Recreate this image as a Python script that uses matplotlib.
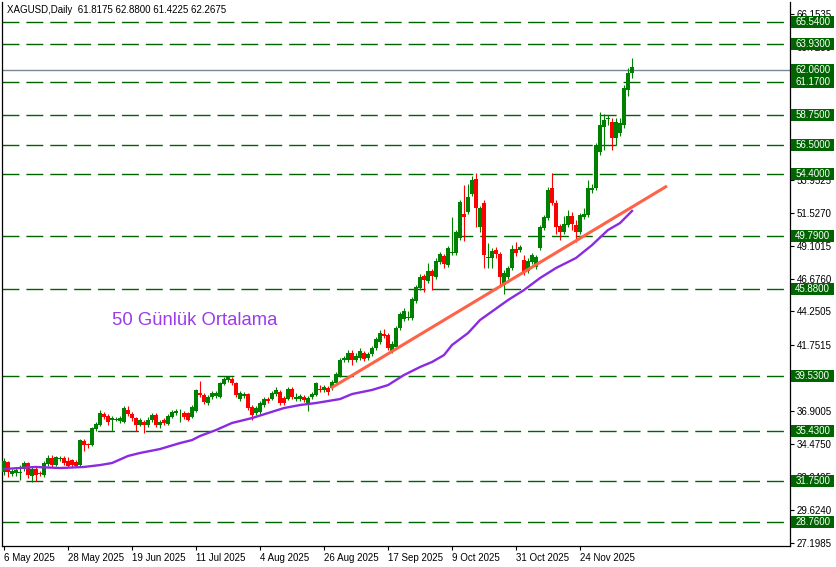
import numpy as np
import matplotlib
matplotlib.use('Agg')
import matplotlib.pyplot as plt
import matplotlib.transforms as mtransforms
from matplotlib.patches import Rectangle

plt.rcParams['font.family'] = ['Liberation Sans', 'DejaVu Sans']
plt.rcParams['lines.scale_dashes'] = False

# daily candles XAGUSD, 6 May 2025 .. 11 Dec 2025
opens = [32.43, 33.16, 32.28, 32.35, 32.39, 32.65, 33.09, 32.13, 32.65, 32.35,
         32.21, 33.02, 33.46, 32.94, 33.38, 33.46, 33.24, 33.31, 33.16, 32.94,
         34.71, 34.49, 34.42, 35.59, 35.89, 36.70, 36.55, 36.26, 36.26, 36.18,
         36.11, 36.99, 36.70, 36.40, 35.89, 36.11, 35.89, 36.26, 36.62, 35.89,
         36.26, 35.96, 36.48, 36.77, 36.74, 36.77, 36.77, 36.48, 36.92, 38.24,
         38.10, 37.51, 37.95, 38.02, 37.95, 38.91, 39.20, 39.28, 38.98, 37.80,
         38.02, 38.17, 37.21, 36.77, 36.85, 37.36, 37.80, 37.80, 38.17, 38.32,
         37.88, 37.80, 38.54, 37.80, 37.80, 37.95, 37.51, 37.95, 38.10, 38.54,
         38.47, 38.61, 38.61, 38.98, 39.50, 40.68, 40.68, 41.19, 40.68, 40.82,
         41.19, 40.82, 41.12, 41.56, 42.00, 42.59, 42.52, 41.34, 41.63, 43.03,
         43.69, 43.77, 43.77, 45.02, 45.98, 46.86, 46.49, 47.23, 46.79, 47.89,
         48.34, 47.67, 48.56, 48.56, 49.66, 51.43, 51.58, 52.90, 54.00, 50.47,
         52.24, 48.19, 48.19, 48.77, 48.48, 46.20, 46.79, 47.45, 48.85, 48.77,
         48.04, 47.23, 47.89, 47.52, 48.92, 50.40, 51.13, 53.34, 52.24, 50.54,
         50.10, 50.62, 51.28, 50.62, 50.10, 51.20, 51.35, 53.19, 53.34, 55.99,
         57.83, 58.42, 58.20, 57.02, 57.42, 57.98, 60.56, 61.8175]
highs = [33.46, 33.24, 32.65, 32.72, 32.94, 33.24, 33.16, 32.80, 32.80, 32.50,
         33.24, 33.68, 33.68, 33.61, 33.61, 33.61, 33.53, 33.38, 33.31, 34.86,
         34.86, 34.56, 35.74, 36.11, 36.99, 36.85, 36.70, 36.55, 36.48, 36.55,
         37.29, 37.29, 36.85, 36.48, 36.40, 36.26, 36.48, 36.77, 36.77, 36.26,
         36.40, 36.70, 36.99, 37.07, 37.07, 36.92, 36.85, 37.36, 38.54, 39.13,
         38.24, 38.10, 38.39, 38.39, 39.05, 39.42, 39.50, 39.42, 39.05, 38.39,
         38.32, 38.24, 37.36, 37.29, 37.66, 37.95, 37.95, 38.39, 38.69, 38.47,
         38.02, 38.69, 38.69, 38.24, 38.17, 38.10, 38.02, 38.32, 39.05, 38.83,
         38.83, 38.76, 39.20, 39.79, 40.82, 40.97, 41.41, 41.41, 41.19, 41.56,
         41.34, 41.26, 41.70, 42.37, 42.88, 42.96, 42.66, 42.07, 43.18, 44.21,
         44.50, 44.28, 45.31, 46.20, 47.00, 47.00, 47.82, 47.38, 48.19, 48.63,
         48.48, 49.07, 51.20, 50.25, 52.46, 53.56, 53.64, 54.22, 54.44, 52.02,
         52.46, 49.29, 48.92, 49.00, 48.63, 47.30, 47.60, 49.14, 49.36, 49.14,
         48.41, 48.19, 48.56, 48.41, 50.62, 51.35, 53.41, 54.44, 52.46, 50.69,
         51.28, 51.72, 51.57, 50.98, 51.50, 51.87, 53.93, 53.64, 56.65, 58.94,
         58.79, 58.72, 58.49, 58.49, 58.49, 60.93, 62.18, 62.88]
lows = [32.21, 32.06, 32.13, 32.13, 31.84, 32.50, 31.99, 31.69, 31.76, 32.13,
        32.06, 32.87, 32.80, 32.87, 33.24, 32.94, 32.80, 32.80, 32.80, 32.87,
        33.97, 34.19, 34.34, 35.45, 35.81, 36.33, 35.89, 35.45, 36.18, 36.04,
        36.04, 36.55, 36.18, 35.45, 35.81, 35.30, 35.74, 36.11, 35.74, 35.67,
        35.89, 35.89, 36.40, 36.62, 36.11, 36.33, 36.18, 36.40, 36.85, 37.95,
        37.43, 37.36, 37.80, 37.88, 37.88, 38.83, 39.05, 38.83, 37.95, 37.66,
        37.88, 36.99, 36.26, 36.62, 36.70, 37.21, 37.51, 37.73, 38.02, 37.36,
        37.36, 37.73, 37.80, 37.66, 37.66, 37.58, 36.92, 37.80, 38.02, 38.32,
        38.32, 38.10, 38.47, 38.91, 39.42, 40.53, 40.53, 40.31, 40.53, 40.68,
        40.60, 40.68, 40.97, 41.41, 41.85, 42.30, 41.41, 41.19, 41.48, 42.88,
        43.55, 43.62, 43.62, 44.87, 45.83, 45.68, 46.34, 45.83, 46.64, 47.74,
        47.45, 47.52, 48.41, 48.41, 49.51, 49.44, 51.43, 52.75, 50.47, 50.10,
        47.45, 47.45, 47.45, 48.19, 46.05, 45.54, 46.64, 47.30, 48.34, 48.63,
        46.94, 47.08, 47.74, 47.38, 48.78, 50.25, 50.98, 52.09, 49.95, 49.51,
        49.95, 50.47, 50.25, 49.36, 49.95, 51.06, 51.20, 52.97, 53.19, 55.77,
        56.14, 57.98, 56.14, 56.51, 57.20, 57.76, 60.12, 61.4225]
closes = [33.24, 32.43, 32.50, 32.57, 32.43, 33.09, 32.21, 32.65, 32.21, 32.28,
          33.09, 33.46, 32.94, 33.53, 33.46, 33.09, 32.87, 32.94, 32.87, 34.78,
          34.42, 34.42, 35.67, 35.96, 36.77, 36.48, 36.11, 36.40, 36.33, 36.40,
          37.14, 36.70, 36.40, 35.89, 36.26, 35.89, 36.26, 36.62, 35.89, 36.11,
          36.04, 36.55, 36.85, 36.92, 36.77, 36.48, 36.26, 37.21, 38.47, 38.10,
          37.58, 37.95, 38.24, 38.24, 38.98, 39.28, 39.42, 38.98, 38.10, 38.24,
          38.17, 37.14, 36.62, 37.14, 37.51, 37.80, 37.66, 38.24, 38.47, 37.51,
          37.51, 38.54, 37.95, 37.95, 38.02, 37.73, 37.88, 38.17, 38.98, 38.47,
          38.69, 38.32, 39.05, 39.64, 40.68, 40.82, 41.19, 40.68, 40.97, 41.34,
          40.75, 41.12, 41.56, 42.22, 42.66, 42.44, 41.56, 41.85, 43.03, 44.06,
          44.28, 43.84, 45.17, 46.05, 46.79, 46.57, 47.23, 46.86, 47.96, 48.48,
          47.74, 48.92, 48.63, 50.10, 52.31, 51.20, 52.68, 53.93, 51.87, 51.87,
          48.41, 48.26, 48.70, 48.48, 46.79, 47.08, 47.45, 48.85, 48.56, 48.99,
          47.16, 47.96, 48.41, 48.26, 50.47, 51.20, 53.19, 52.24, 50.47, 50.10,
          50.69, 51.28, 50.69, 50.10, 51.35, 51.43, 53.34, 53.34, 56.51, 57.98,
          58.35, 58.49, 57.02, 58.20, 58.16, 60.70, 61.81, 62.2675]

# 50-day moving average, sampled along the purple line
ma_bars = [0, 8, 14, 20, 24, 27, 31, 34, 39, 44, 47, 49, 53, 57, 62, 66, 70, 74, 78,
           84, 87, 92, 96, 100, 104, 107, 110, 112, 116, 119, 126, 130, 134, 138,
           143, 147, 151, 154, 157]
ma_vals = [32.65, 32.80, 32.72, 32.80, 32.94, 33.09, 33.61, 33.83, 34.12, 34.56,
           34.78, 35.08, 35.52, 36.04, 36.40, 36.77, 37.14, 37.36, 37.51, 37.80,
           38.17, 38.47, 38.83, 39.57, 40.16, 40.53, 41.04, 41.78, 42.66, 43.62,
           45.09, 45.83, 46.71, 47.45, 48.19, 49.14, 50.25, 50.76, 51.65]

# trend line end points (bar, price)
trend_bars = [81.75, 165.75]
trend_prices = [38.61, 53.49]

levels = [65.54, 63.93, 61.17, 58.75, 56.50, 54.40, 49.79, 45.88, 39.53, 35.43, 31.75, 28.76]
bid = 62.06

ytick_vals = [66.1535, 63.7280, 61.3025, 58.8770, 56.4515, 53.9525, 51.5270, 49.1015,
              46.6760, 44.2505, 41.7515, 39.3260, 36.9005, 34.4750, 32.0495, 29.6240, 27.1985]
date_labels = ['6 May 2025', '28 May 2025', '19 Jun 2025', '11 Jul 2025', '4 Aug 2025',
               '26 Aug 2025', '17 Sep 2025', '9 Oct 2025', '31 Oct 2025', '24 Nov 2025']

fig = plt.figure(figsize=(8.36, 5.67), dpi=100)
ax = fig.add_axes([2/836, 21/567, 788/836, 544/567])

dkgreen = '#006400'
for lv in levels:
    ax.axhline(lv, color=dkgreen, lw=1.0, linestyle=(0, (12.2, 5.0)), zorder=1)
ax.axhline(bid, color='#778899', lw=1.0, zorder=1)

x = np.arange(len(opens))
o = np.array(opens); h = np.array(highs); l = np.array(lows); c = np.array(closes)
up = c >= o
cols = np.where(up, '#008000', '#ff0000')
ax.vlines(x, l, h, colors=cols, lw=0.8, zorder=3)
body = np.maximum(np.abs(c - o), 0.05)
ax.bar(x, body, bottom=np.minimum(o, c), width=0.78, color=cols, zorder=4, linewidth=0)

ax.plot(ma_bars, ma_vals, color='#8a2be2', lw=1.7, zorder=5)
ax.plot(trend_bars, trend_prices, color='#ff6347', lw=2.2, zorder=6, solid_capstyle='butt')

ax.text(47.75, 43.62, '50 Günlük Ortalama', color='#9b3ce8', fontsize=13.3,
        ha='center', va='center', zorder=7)
ax.text(0.006, 0.985, 'XAGUSD,Daily  61.8175 62.8800 61.4225 62.2675', transform=ax.transAxes,
        fontsize=7, ha='left', va='center', color='black')

ax.set_xlim(-0.5, 196.5)
ax.set_ylim(26.98, 67.04)

ax.yaxis.tick_right()
ax.set_yticks(ytick_vals)
ax.set_yticklabels(['%.4f' % v for v in ytick_vals])
ax.set_xticks(range(0, 16 * len(date_labels), 16))
ax.set_xticklabels(date_labels)
for t in ax.get_xticklabels():
    t.set_ha('left')
ax.tick_params(axis='both', direction='out', length=3, width=0.8, labelsize=7, pad=2)
ax.tick_params(axis='y', pad=2)

for s in ['left', 'bottom', 'right']:
    ax.spines[s].set_linewidth(0.9)
ax.spines['top'].set_visible(False)

# price label boxes on the right scale
blend = mtransforms.blended_transform_factory(ax.transAxes, ax.transData)
box_w = 43 / 788
box_h = 12 / 13.58
for lv in levels + [bid]:
    ax.add_patch(Rectangle((1.0015, lv - box_h / 2), box_w, box_h, transform=blend,
                           fc=dkgreen, ec=dkgreen, lw=0, clip_on=False, zorder=9))
    ax.text(1.0015 + box_w / 2, lv, '%.4f' % lv, transform=blend, fontsize=7, color='white',
            ha='center', va='center', clip_on=False, zorder=10)

fig.savefig('out.png', dpi=100)
